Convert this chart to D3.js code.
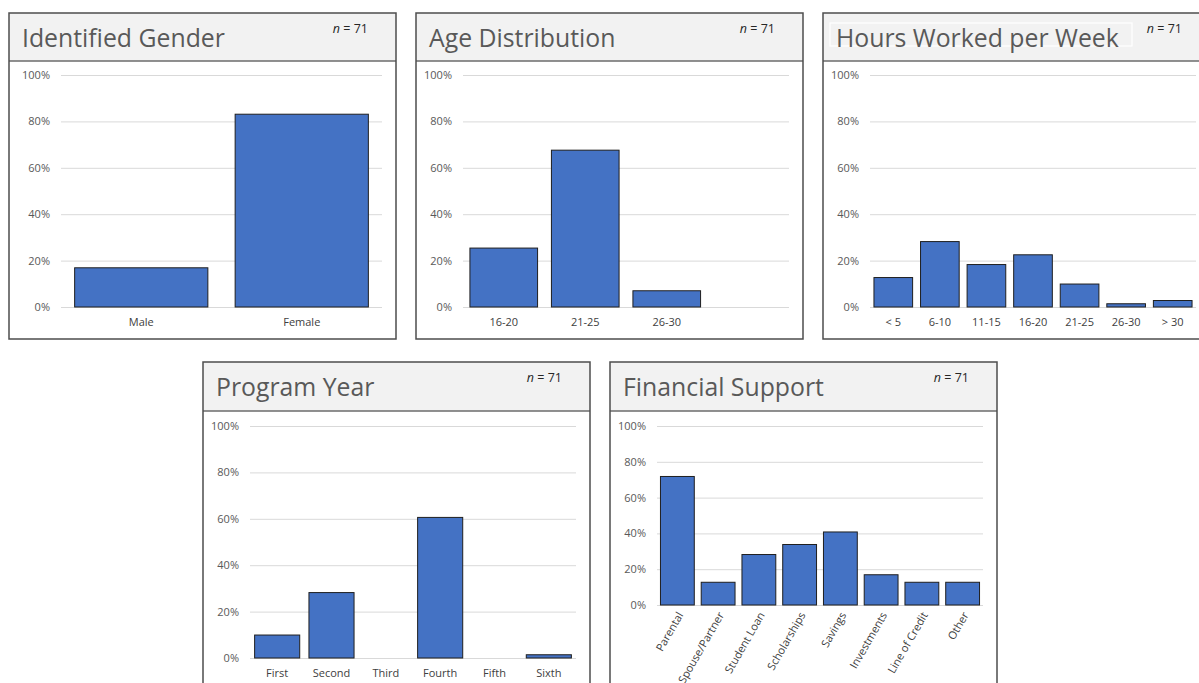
<!DOCTYPE html>
<html>
<head>
<meta charset="utf-8">
<script src="https://cdn.jsdelivr.net/npm/d3@7"></script>
<style>
  body { margin: 0; background: #fff; }
  svg { display: block; font-family: "Open Sans", "Noto Sans", sans-serif; }
</style>
</head>
<body>
<div class="chart"></div>
<script>
// data (percent of respondents, n = 71)
var genderCats = ["Male", "Female"];
var genderVals = [16.9, 83.1];

var ageCats = ["16-20", "21-25", "26-30", ""];
var ageVals = [25.4, 67.6, 7.0, 0];

var hoursCats = ["< 5", "6-10", "11-15", "16-20", "21-25", "26-30", "> 30"];
var hoursVals = [12.7, 28.2, 18.3, 22.5, 9.9, 1.4, 2.8];

var yearCats = ["First", "Second", "Third", "Fourth", "Fifth", "Sixth"];
var yearVals = [9.9, 28.2, 0, 60.6, 0, 1.4];

var supportCats = ["Parental", "Spouse/Partner", "Student Loan", "Scholarships",
  "Savings", "Investments", "Line of Credit", "Other"];
var supportVals = [71.8, 12.7, 28.2, 33.8, 40.8, 16.9, 12.7, 12.7];

var yTicks = [0, 20, 40, 60, 80, 100];
var nLabel = "71";

var svgWidth = 1199;
var svgHeight = 683;

var svg = d3.select(".chart")
  .append("svg")
  .attr("width", svgWidth)
  .attr("height", svgHeight);

// one bordered panel with a grey header and a bar chart
function drawPanel(p) {
  var g = svg.append("g")
    .attr("transform", `translate(${p.x}, ${p.y})`);

  var w = 387, h = p.h, headerH = p.headerH;

  g.append("rect")
    .attr("width", w).attr("height", headerH)
    .attr("fill", "#f2f2f2");

  g.append("line")
    .attr("x1", 0).attr("x2", w)
    .attr("y1", headerH).attr("y2", headerH)
    .attr("stroke", "#6b6b6b").attr("stroke-width", 1.5);

  if (p.titleBox) {
    g.append("rect")
      .attr("x", 7).attr("y", 10)
      .attr("width", 302).attr("height", 23)
      .attr("fill", "none")
      .attr("stroke", "#ffffff").attr("stroke-width", 1.2);
  }

  g.append("text")
    .attr("x", 13).attr("y", 34)
    .attr("font-size", 24.8)
    .attr("fill", "#595959")
    .text(p.title);

  var nText = g.append("text")
    .attr("x", 359).attr("y", 20)
    .attr("text-anchor", "end")
    .attr("font-size", 12.5)
    .attr("fill", "#262626");
  nText.append("tspan").attr("font-style", "italic").text("n");
  nText.append("tspan").text(" = " + nLabel);

  var left = p.left, right = w - 14, top = p.top, bottom = p.bottom;
  var width = right - left, height = bottom - top;

  var chartGroup = g.append("g")
    .attr("transform", `translate(${left}, ${top})`);

  var xScale = d3.scaleBand()
    .domain(p.cats)
    .range([0, width])
    .paddingInner(0.17)
    .paddingOuter(0.085);

  var yScale = d3.scaleLinear()
    .domain([0, 100])
    .range([height, 0]);

  var yAxis = d3.axisLeft(yScale)
    .tickValues(yTicks)
    .tickSize(-width)
    .tickPadding(11)
    .tickFormat(d => d + "%");

  var yG = chartGroup.append("g").call(yAxis);
  yG.select(".domain").remove();
  yG.selectAll("line").attr("stroke", "#d9d9d9");
  yG.selectAll("text")
    .attr("font-size", 11)
    .attr("font-family", "'Open Sans', sans-serif")
    .attr("fill", "#595959");

  chartGroup.selectAll("rect.bar")
    .data(p.vals.map((v, i) => ({ c: p.cats[i], v: v })).filter(d => d.v > 0))
    .enter()
    .append("rect")
    .attr("class", "bar")
    .attr("x", d => xScale(d.c))
    .attr("width", xScale.bandwidth())
    .attr("y", d => yScale(d.v))
    .attr("height", d => height - yScale(d.v))
    .attr("fill", "#4472c4")
    .attr("stroke", "#1f1f1f")
    .attr("stroke-width", 1);

  var xAxis = d3.axisBottom(xScale)
    .tickSize(0)
    .tickPadding(11);

  var xG = chartGroup.append("g")
    .attr("transform", `translate(0, ${height})`)
    .call(xAxis);
  xG.select(".domain").remove();
  xG.selectAll("text")
    .attr("font-size", 11)
    .attr("font-family", "'Open Sans', sans-serif")
    .attr("fill", "#404040");

  if (p.rotate) {
    xG.selectAll("text")
      .attr("font-size", 11)
      .attr("y", 0)
      .attr("dy", "0.35em")
      .attr("text-anchor", "end")
      .attr("transform", "translate(3, 8) rotate(-60)");
  }

  // outer border
  g.append("rect")
    .attr("width", w).attr("height", h)
    .attr("fill", "none")
    .attr("stroke", "#4d4d4d").attr("stroke-width", 1.5);
}

drawPanel({ x: 9, y: 13, h: 326, headerH: 48, left: 52, top: 62, bottom: 294,
  title: "Identified Gender", cats: genderCats, vals: genderVals });
drawPanel({ x: 416, y: 13, h: 326, headerH: 48, left: 47, top: 62, bottom: 294,
  title: "Age Distribution", cats: ageCats, vals: ageVals });
drawPanel({ x: 823, y: 13, h: 326, headerH: 48, left: 47, top: 62, bottom: 294,
  title: "Hours Worked per Week", cats: hoursCats, vals: hoursVals, titleBox: true });
drawPanel({ x: 203, y: 362, h: 340, headerH: 49, left: 47, top: 64, bottom: 296,
  title: "Program Year", cats: yearCats, vals: yearVals });
drawPanel({ x: 610, y: 362, h: 340, headerH: 49, left: 47, top: 64, bottom: 243,
  title: "Financial Support", cats: supportCats, vals: supportVals, rotate: true });
</script>
</body>
</html>
